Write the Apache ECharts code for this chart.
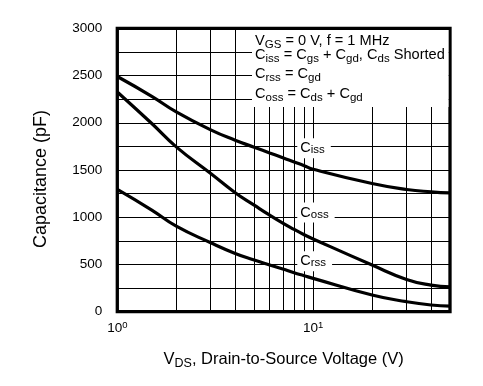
<!DOCTYPE html>
<html><head><meta charset="utf-8">
<script src="https://cdn.jsdelivr.net/npm/echarts@6/dist/echarts.min.js"></script>
<style>html,body{margin:0;padding:0;background:#fff}#c{width:483px;height:386px}</style>
</head><body><div id="c"></div>
<script>
// V_DS values (V)
const vds = [1, 1.5, 2, 3, 4, 5, 6, 7, 8, 9, 10, 20, 30, 40, 50];
// Capacitances (pF)
const ciss = [2490, 2280, 2115, 1925, 1815, 1741, 1680, 1630, 1585, 1546, 1508, 1357, 1294, 1269, 1258];
const coss = [2326, 1992, 1745, 1463, 1260, 1128, 1022, 938, 871, 815, 770, 494, 342, 282, 264];
const crss = [1294, 1075, 905, 730, 617, 547, 494, 451, 412, 381, 353, 177, 106, 71, 60];
// minor vertical grid positions on log axis
const minorGridX = [2, 3, 4, 5, 6, 7, 8, 9, 20, 30, 40];
// curve labels
const labelSubs = ['iss', 'oss', 'rss'];
const labelX = [8.3, 8.3, 8.3];
const labelY = [1730, 1050, 535];
// y tick labels shown every 500
const yLabelStep = 500;
const annotationLines = [
  'V{s|GS} = 0 V, f = 1 MHz',
  'C{s|iss} = C{s|gs} + C{s|gd}, C{s|ds} Shorted',
  'C{s|rss} = C{s|gd}',
  'C{s|oss} = C{s|ds} + C{s|gd}'
];

const FONT = '"Liberation Sans", Arial, Helvetica, sans-serif';
const chart = echarts.init(document.getElementById('c'), null, {renderer: 'canvas'});

function pts(ys) { return vds.map((x, i) => [x, ys[i]]); }
const curveStyle = {color: '#000', width: 3.2};

const annoBaselines = [46, 60.3, 79.3, 99.3];
const annoGraphics = annotationLines.map((t, i) => ({
  type: 'text', z: 101, left: 255, top: annoBaselines[i] - 14.6,
  style: {
    text: t, fill: '#000', font: '14.6px ' + FONT,
    rich: {
      s: {fontSize: 11.5, fontFamily: FONT, lineHeight: 9, verticalAlign: 'bottom', fill: '#000'}
    },
    lineHeight: 19
  }
}));

const lineSeries = (ys) => ({
  type: 'line', data: pts(ys), smooth: 0.5, symbol: 'none',
  lineStyle: curveStyle, z: 3
});

chart.setOption({
  animation: false,
  backgroundColor: '#fff',
  grid: {left: 117.3, right: 33, top: 28.3, bottom: 74.3, show: true, borderColor: '#000', borderWidth: 3.3, backgroundColor: 'transparent'},
  xAxis: {
    type: 'log', logBase: 10, min: 1, max: 50,
    axisLine: {show: false}, axisTick: {show: false},
    splitLine: {show: true, lineStyle: {color: '#000', width: 1}},
    axisLabel: {
      margin: 9, color: '#000', fontFamily: FONT, fontSize: 13.5, lineHeight: 15,
      showMaxLabel: false,
      formatter: function (v) {
        const e = Math.log10(v);
        if (Math.abs(e - Math.round(e)) > 1e-6 || v > 10.001) return '';
        return '10{sup|' + Math.round(e) + '}';
      },
      rich: {sup: {fontSize: 9.5, fontFamily: FONT, lineHeight: 12, verticalAlign: 'top', color: '#000'}}
    },
    name: 'V{s|DS}, Drain-to-Source Voltage (V)',
    nameLocation: 'middle', nameGap: 38,
    nameTextStyle: {
      color: '#000', fontFamily: FONT, fontSize: 16.5, lineHeight: 20,
      rich: {s: {fontSize: 12.5, fontFamily: FONT, lineHeight: 9, verticalAlign: 'bottom', color: '#000'}}
    }
  },
  yAxis: {
    type: 'value', min: 0, max: 3000, interval: 250,
    axisLine: {show: false}, axisTick: {show: false},
    splitLine: {show: true, lineStyle: {color: '#000', width: 1}},
    axisLabel: {
      margin: 15, color: '#000', fontFamily: FONT, fontSize: 13.5,
      formatter: v => (v % yLabelStep === 0 ? String(v) : '')
    },
    name: 'Capacitance (pF)', nameLocation: 'middle', nameGap: 67, nameRotate: 90,
    nameTextStyle: {color: '#000', fontFamily: FONT, fontSize: 18, padding: [0, 18, 0, 0]}
  },
  series: [
    Object.assign(lineSeries(ciss), {
      markLine: {
        z: 1, silent: true, symbol: ['none', 'none'], label: {show: false},
        lineStyle: {color: '#000', width: 1, type: 'solid'},
        emphasis: {disabled: true},
        data: minorGridX.map(x => ({xAxis: x}))
      }
    }),
    lineSeries(coss),
    lineSeries(crss),
    {
      type: 'scatter', z: 10, symbolSize: 0, silent: true,
      itemStyle: {opacity: 1},
      data: labelSubs.map((s, i) => [labelX[i], labelY[i], s]),
      label: {
        show: true, position: 'right', distance: 0, opacity: 1,
        backgroundColor: '#fff', padding: [2, 6, 2, 3],
        color: '#000', fontFamily: FONT, fontSize: 14.5, lineHeight: 16,
        formatter: p => 'C{s|' + p.data[2] + '}',
        rich: {s: {fontSize: 11.5, fontFamily: FONT, lineHeight: 8, verticalAlign: 'bottom', color: '#000'}}
      }
    }
  ],
  graphic: [
    {type: 'rect', z: 100, shape: {x: 252, y: 30, width: 196.5, height: 77}, style: {fill: '#fff'}, silent: true}
  ].concat(annoGraphics)
});
</script>
</body></html>
